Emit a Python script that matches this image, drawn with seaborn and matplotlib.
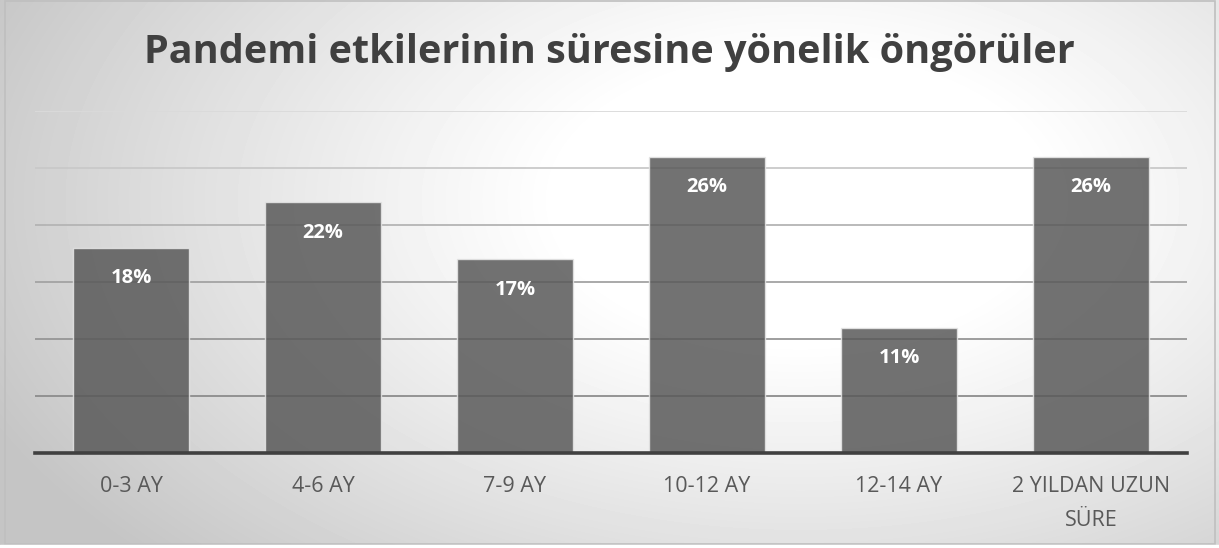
import numpy as np
import pandas as pd
import matplotlib
matplotlib.use('Agg')
import matplotlib.pyplot as plt
import seaborn as sns

# data
categories = ['0-3 AY', '4-6 AY', '7-9 AY', '10-12 AY', '12-14 AY', '2 YILDAN UZUN\nSÜRE']
values = [18, 22, 17, 26, 11, 26]
grid_levels = [5, 10, 15, 20, 25, 30]
title = 'Pandemi etkilerinin süresine yönelik öngörüler'

sns.set_theme(style='white')
plt.rcParams['font.family'] = ['Open Sans', 'DejaVu Sans']

fig = plt.figure(figsize=(12.19, 5.48), dpi=100)

# radial grey background like the office chart area
bg = fig.add_axes([0, 0, 1, 1], zorder=-10)
yy, xx = np.mgrid[0:548, 0:1219]
r = np.sqrt(((xx - 800) / 820.0) ** 2 + ((yy - 200) / 480.0) ** 2)
shade = np.clip(1.06 - 0.26 * r ** 1.2, 0.77, 1.0)
bg.imshow(shade, cmap='gray', vmin=0, vmax=1, extent=[0, 1219, 548, 0], aspect='auto')
bg.add_patch(plt.Rectangle((4.5, 0.5), 1210, 543, fill=False, edgecolor='#bfbfbf', lw=1.2))
bg.fill_between([0, 1219], 544.5, 548, color='white')
bg.set_xlim(0, 1219)
bg.set_ylim(548, 0)
bg.axis('off')

ax = fig.add_axes([0.0287, 0.1734, 0.945, 0.624])
ax.patch.set_alpha(0)

df = pd.DataFrame({'kategori': categories, 'oran': values})

# gridlines get darker towards the bottom
grid_colors = ['#8c8c8c', '#969696', '#a3a3a3', '#b4b4b4', '#c9c9c9', '#dadada']
for lvl, c in zip(grid_levels, grid_colors):
    ax.axhline(lvl, color=c, lw=1.3, zorder=0)

sns.barplot(data=df, x='kategori', y='oran', color='#595959', alpha=0.85,
            width=0.6, edgecolor='#e6e6e6', linewidth=1.0, saturation=1, ax=ax, zorder=2)

for i, v in enumerate(values):
    ax.annotate(f'{v}%', (i, v), xytext=(0, -22), textcoords='offset points',
                ha='center', va='center', color='white', fontsize=14.5, fontweight='bold')

ax.set_xlim(-0.5, 5.5)
ax.set_ylim(0, 30)
ax.set_yticks([])
ax.set_xlabel('')
ax.set_ylabel('')
for s in ['top', 'left', 'right']:
    ax.spines[s].set_visible(False)
ax.spines['bottom'].set_color('#404040')
ax.spines['bottom'].set_linewidth(2.6)
ax.spines['bottom'].set_zorder(5)
ax.tick_params(axis='x', length=0, pad=16.5, labelsize=15.5, labelcolor='#595959')
for lab in ax.get_xticklabels():
    lab.set_linespacing(1.85)
    lab.set_verticalalignment('top')

fig.text(0.5, 0.905, title, ha='center', va='center', fontsize=28.5,
         fontweight='bold', color='#404040')

fig.savefig('out.png', dpi=100)
